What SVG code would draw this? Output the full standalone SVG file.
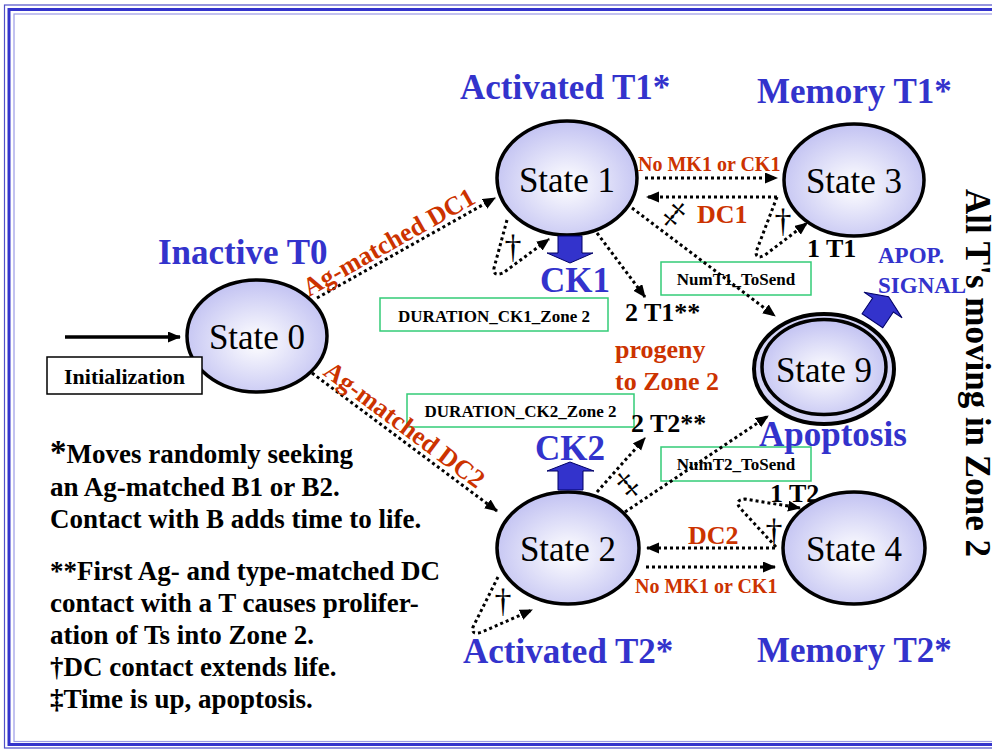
<svg xmlns="http://www.w3.org/2000/svg" width="992" height="749" viewBox="0 0 992 749">
  <style>
    text { font-family: "Liberation Serif", "Times New Roman", serif; }
    .st { fill: url(#stateFill); stroke: #000; stroke-width: 3.5; }
    .nt { font-size: 35px; text-anchor: middle; fill: #000; }
    .blue { font-size: 35px; font-weight: bold; fill: #3333cc; }
    .sig { font-size: 23px; font-weight: bold; fill: #3333cc; }
    .orn { font-weight: bold; fill: #cc3300; }
    .blk { font-weight: bold; fill: #000; }
    .gbox { fill: none; stroke: #33cc77; stroke-width: 1.5; }
    .gtx { font-size: 17px; font-weight: bold; text-anchor: middle; fill: #000; }
    .dot { fill: none; stroke: #000; stroke-width: 3; stroke-dasharray: 3 3; marker-end: url(#head); }
    .blk-arrow { fill: #3333cc; stroke: #000066; stroke-width: 1; }
    .dag { font-size: 34px; text-anchor: middle; fill: #000; }
    .note { font-size: 27px; font-weight: bold; fill: #000; }
  </style>
  <defs>
    <radialGradient id="stateFill" cx="50%" cy="55%" r="55%">
      <stop offset="0" stop-color="#ffffff"/>
      <stop offset="1" stop-color="#c2c2f2"/>
    </radialGradient>
    <marker id="head" markerUnits="userSpaceOnUse" markerWidth="14" markerHeight="12" refX="12" refY="5.5" orient="auto">
      <path d="M0,0 L13,5.5 L0,11 z" fill="#000"/>
    </marker>
  </defs>

  <rect width="992" height="749" fill="#fff"/>

  <!-- page frame -->
  <g id="frame" fill="none">
    <rect x="4.5" y="5" width="1000" height="743" stroke="#5050c8" stroke-width="1.2"/>
    <rect x="9" y="9.5" width="1000" height="735" stroke="#3333cc" stroke-width="3"/>
    <rect x="14" y="14" width="1000" height="727.5" stroke="#9a9ae6" stroke-width="1.2"/>
  </g>

  <!-- green parameter boxes (drawn under the connectors) -->
  <g id="param-boxes">
    <rect class="gbox" x="380" y="298" width="228" height="33"/>
    <text class="gtx" x="494" y="322">DURATION_CK1_Zone 2</text>
    <rect class="gbox" x="407" y="394" width="227" height="33"/>
    <text class="gtx" x="520.5" y="417">DURATION_CK2_Zone 2</text>
    <rect class="gbox" x="661" y="262" width="150" height="33"/>
    <text class="gtx" x="736" y="285">NumT1_ToSend</text>
    <rect class="gbox" x="661" y="447" width="150" height="34"/>
    <text class="gtx" x="736" y="470">NumT2_ToSend</text>
  </g>

  <!-- connectors -->
  <g id="connectors">
    <path class="dot" d="M317,298 L495,198"/>
    <path class="dot" d="M312,373 L497,511"/>
    <path class="dot" d="M645,178 L777,178"/>
    <path class="dot" d="M777,197 L647,197"/>
    <path class="dot" d="M777,197 L756,252 Q756,260 765,255 L807,223"/>
    <path class="dot" d="M507,220 L494,268 Q493,277 503,273 L549,239"/>
    <path class="dot" d="M597,233 L645,297"/>
    <path class="dot" d="M632,208 L775,316"/>
    <path class="dot" d="M597,492 L645,438"/>
    <path class="dot" d="M625,512 L768,416"/>
    <path class="dot" d="M775,548 L647,548"/>
    <path class="dot" d="M646,567 L775,567"/>
    <path class="dot" d="M776,547 L740,508 Q734,500 745,499 L800,508"/>
    <path class="dot" d="M498,577 L473,627 Q471,636 482,632 L532,610"/>
    <line x1="65" y1="337" x2="180" y2="337" stroke="#000" stroke-width="3.5" marker-end="url(#head)"/>
  </g>

  <!-- connector marks and labels -->
  <g id="edge-labels">
    <text class="orn" font-size="26" transform="translate(309,297) rotate(-29.4)">Ag-matched DC1</text>
    <text class="orn" font-size="26" transform="translate(322,374) rotate(36.7)">Ag-matched DC2</text>
    <text class="orn" font-size="20" x="638" y="171">No MK1 or CK1</text>
    <text class="orn" font-size="26" x="697" y="223">DC1</text>
    <text class="orn" font-size="26" x="688" y="544">DC2</text>
    <text class="orn" font-size="20" x="635" y="593">No MK1 or CK1</text>
    <text class="orn" font-size="26" x="615" y="358">progeny</text>
    <text class="orn" font-size="26" x="615" y="390">to Zone 2</text>
    <text class="blk" font-size="26" x="625" y="321">2 T1**</text>
    <text class="blk" font-size="26" x="631" y="432">2 T2**</text>
    <text class="blk" font-size="26" x="807" y="257">1 T1</text>
    <text class="blk" font-size="26" x="770" y="502">1 T2</text>
    <text class="dag" x="513" y="258">†</text>
    <text class="dag" x="503" y="612">†</text>
    <text class="dag" x="783" y="232">†</text>
    <text class="dag" x="774" y="542">†</text>
    <text class="dag" font-size="24" transform="translate(668,222) rotate(40)">‡</text>
    <text class="dag" font-size="24" transform="translate(634,492) rotate(-40)">‡</text>
  </g>

  <!-- states -->
  <g id="state0">
    <ellipse class="st" cx="257" cy="336" rx="70" ry="56"/>
    <text class="nt" x="257" y="349">State 0</text>
  </g>
  <g id="state1">
    <ellipse class="st" cx="567" cy="178" rx="70" ry="57"/>
    <text class="nt" x="567" y="192">State 1</text>
  </g>
  <g id="state3">
    <ellipse class="st" cx="854" cy="180" rx="70" ry="56"/>
    <text class="nt" x="854" y="193">State 3</text>
  </g>
  <g id="state9">
    <ellipse cx="824" cy="369" rx="70" ry="55" fill="#d4d4f6" stroke="#000" stroke-width="4"/>
    <ellipse class="st" cx="824" cy="367" rx="62" ry="47.5"/>
    <text class="nt" x="824" y="382">State 9</text>
  </g>
  <g id="state2">
    <ellipse class="st" cx="568" cy="548" rx="71" ry="56"/>
    <text class="nt" x="568" y="561">State 2</text>
  </g>
  <g id="state4">
    <ellipse class="st" cx="854" cy="548" rx="71" ry="56"/>
    <text class="nt" x="854" y="561">State 4</text>
  </g>

  <!-- entry point -->
  <g id="initialization">
    <rect x="47" y="357" width="155" height="37" fill="#fff" stroke="#000" stroke-width="1.5"/>
    <text class="blk" font-size="22" x="124.5" y="384" text-anchor="middle">Initialization</text>
  </g>

  <!-- cytokine / signal block arrows -->
  <g id="ck1">
    <polygon class="blk-arrow" points="558,236 582,236 582,253 593,253 570,263 547,253 558,253"/>
    <text class="blue" x="540" y="292">CK1</text>
  </g>
  <g id="ck2">
    <polygon class="blk-arrow" points="558,490 583,490 583,471 594,471 570,462 547,471 558,471"/>
    <text class="blue" x="535" y="460">CK2</text>
  </g>
  <g id="apop-signal">
    <polygon class="blk-arrow" transform="translate(883,305) rotate(34)" points="-12.5,19 12.5,19 12.5,0 23,0 0,-10 -23,0 -12.5,0"/>
    <text class="sig" x="878" y="263">APOP.</text>
    <text class="sig" x="878" y="293">SIGNAL</text>
  </g>

  <!-- population titles -->
  <g id="titles">
    <text class="blue" x="460" y="99">Activated T1*</text>
    <text class="blue" x="757" y="103">Memory T1*</text>
    <text class="blue" x="158" y="264">Inactive T0</text>
    <text class="blue" x="759" y="446">Apoptosis</text>
    <text class="blue" x="463" y="663">Activated T2*</text>
    <text class="blue" x="757" y="662">Memory T2*</text>
    <text class="blk" font-size="35" transform="translate(966,189) rotate(90)">All T's moving in Zone 2</text>
  </g>

  <!-- footnotes -->
  <g id="notes">
    <text class="note" x="50" y="463"><tspan font-size="33">*</tspan>Moves randomly seeking</text>
    <text class="note" x="50" y="496">an Ag-matched B1 or B2.</text>
    <text class="note" x="50" y="528">Contact with B adds time to life.</text>
    <text class="note" x="50" y="580">**First Ag- and type-matched DC</text>
    <text class="note" x="50" y="612">contact with a T causes prolifer-</text>
    <text class="note" x="50" y="644">ation of Ts into Zone 2.</text>
    <text class="note" x="50" y="676">†DC contact extends life.</text>
    <text class="note" x="50" y="708">‡Time is up, apoptosis.</text>
  </g>
</svg>
